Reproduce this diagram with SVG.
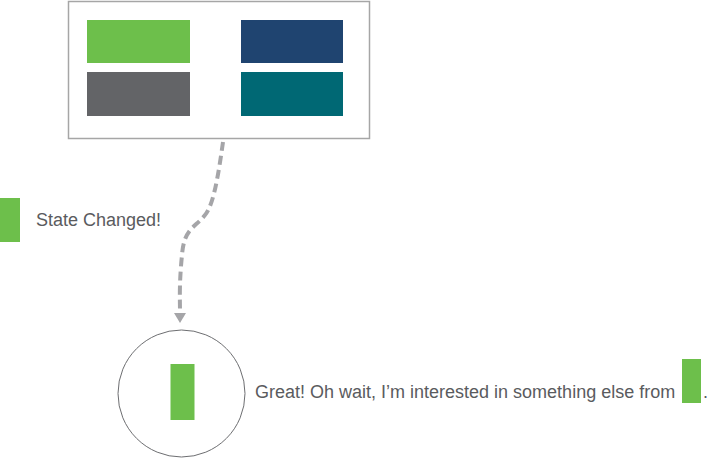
<svg xmlns="http://www.w3.org/2000/svg" width="709" height="458" viewBox="0 0 709 458">
<defs>
<style>
.lbl{font-family:"Liberation Sans",Arial,sans-serif;font-size:18px;fill:#5a5b5e}
.green{fill:#6dbf4b}
.conn{fill:none;stroke:#a5a5a8;stroke-width:4;stroke-dasharray:9 5}
</style>
<marker id="ah" viewBox="0 0 10 12" refX="0" refY="6" markerWidth="10" markerHeight="12" markerUnits="userSpaceOnUse" orient="auto">
<path d="M0,0 L10,6 L0,12 z" fill="#a5a5a8"/>
</marker>
</defs>
<g id="store">
<rect x="68.5" y="1.5" width="301" height="137" fill="#fff" stroke="#a6a6a6" stroke-width="1.5"/>
<rect class="green" x="87" y="20" width="103" height="43"/>
<rect x="241" y="20" width="102" height="43" fill="#1f4470"/>
<rect x="87" y="72" width="103" height="44" fill="#636467"/>
<rect x="241" y="72" width="102" height="44" fill="#006874"/>
</g>
<g id="state-changed">
<rect class="green" x="0" y="198" width="20" height="44"/>
<text class="lbl" x="36" y="226">State Changed!</text>
</g>
<g id="connectors">
<path class="conn" d="M223,142 C219,170 214,205 205,215 C195,228 184,228 182,255 C179,285 180,300 180,313" marker-end="url(#ah)"/>
</g>
<g id="component">
<circle cx="181.5" cy="393.5" r="63.5" fill="#fff" stroke="#6d6e71" stroke-width="1"/>
<rect class="green" x="170.5" y="364" width="24" height="56"/>
</g>
<g id="comment">
<text class="lbl" x="255" y="398">Great! Oh wait, I’m interested in something else from</text>
<rect class="green" x="682" y="359" width="19" height="44"/>
<text class="lbl" x="703" y="398">.</text>
</g>
</svg>
